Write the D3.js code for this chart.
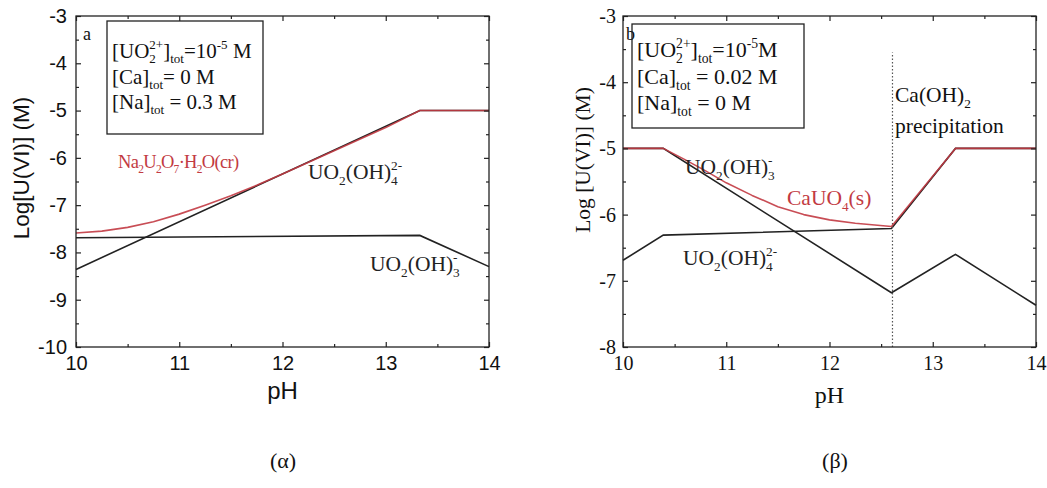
<!DOCTYPE html>
<html>
<head>
<meta charset="utf-8">
<script src="https://cdn.jsdelivr.net/npm/d3@7"></script>
<style>
  body { margin: 0; background: #fff; }
  text { white-space: pre; }
</style>
</head>
<body>
<script>
// axis ticks
const pH_ticks = [10, 11, 12, 13, 14]
const pH_minor = [10.5, 11.5, 12.5, 13.5]
const a_yTicks = [-10, -9, -8, -7, -6, -5, -4, -3]
const a_yMinor = [-9.5, -8.5, -7.5, -6.5, -5.5, -4.5, -3.5]
const b_yTicks = [-8, -7, -6, -5, -4, -3]
const b_yMinor = [-7.5, -6.5, -5.5, -4.5, -3.5]

// panel a : [pH, log C]
const a_na2u2o7 = [[10, -7.59], [10.25, -7.55], [10.5, -7.47], [10.75, -7.35], [11, -7.19],
  [11.25, -7.0], [11.5, -6.8], [11.75, -6.58], [12, -6.34], [12.5, -5.85], [13, -5.36],
  [13.33, -5.0], [14, -5.0]]
const a_uo2oh4 = [[10, -8.36], [13.33, -5.0], [14, -5.0]]
const a_uo2oh3 = [[10, -7.69], [13.33, -7.64], [14, -8.3]]

// panel b
const b_cauo4 = [[10, -5.0], [10.39, -5.0], [10.6, -5.17], [10.8, -5.34], [11, -5.52],
  [11.25, -5.71], [11.5, -5.88], [11.75, -6.0], [12, -6.08], [12.25, -6.13], [12.6, -6.18],
  [13.22, -5.0], [14, -5.0]]
const b_uo2oh3 = [[10, -5.0], [10.39, -5.0], [12.6, -7.18], [13.22, -6.6], [14, -7.37]]
const b_uo2oh4 = [[10, -6.69], [10.39, -6.31], [12.6, -6.21], [13.22, -5.0], [14, -5.0]]
const b_caoh2 = [[12.61, -8], [12.61, -3.55]]

const RED = '#c23a42'
const SERIF = '"Liberation Serif", "Times New Roman", serif'
const SANS = '"Liberation Sans", Arial, sans-serif'

const svg = d3.select('body').append('svg')
  .attr('width', 1047).attr('height', 488)

// rich text: parts = [text, mode, text2]; mode n normal, b sub, p sup, bp stacked
function rich(g, x, y, parts, fs, color, family, spacing) {
  const t = g.append('text').attr('x', x).attr('y', y)
    .style('font-family', family).style('font-size', fs + 'px').style('fill', color)
    .style('letter-spacing', (spacing || 0) + 'px')
  const small = fs * 0.62, subOff = fs * 0.26, supOff = -fs * 0.42
  let cur = 0
  parts.forEach(([s, m, s2]) => {
    if (m === 'b') {
      t.append('tspan').attr('dy', subOff - cur).style('font-size', small + 'px').text(s)
      cur = subOff
    } else if (m === 'p') {
      t.append('tspan').attr('dy', supOff - cur).style('font-size', small + 'px').text(s)
      cur = supOff
    } else if (m === 'bp') {
      const a = t.append('tspan').attr('dy', subOff - cur).style('font-size', small + 'px').text(s)
      const w = a.node().getComputedTextLength()
      t.append('tspan').attr('dx', -w).attr('dy', supOff - subOff).style('font-size', small + 'px').text(s2)
      cur = supOff
    } else {
      t.append('tspan').attr('dy', -cur).text(s)
      cur = 0
    }
  })
  return t
}

function drawPanel(p) {
  const g = svg.append('g')
  const x = d3.scaleLinear().domain([10, 14]).range([p.left, p.right])
  const y = d3.scaleLinear().domain(p.yDomain).range([p.bottom, p.top])

  const line = d3.line().x(d => x(d[0])).y(d => y(d[1]))

  // curves
  p.black.forEach(data => {
    g.append('path').attr('d', line(data))
      .attr('fill', 'none').attr('stroke', '#222').attr('stroke-width', 1.6)
  })
  if (p.dotted) {
    g.append('path').attr('d', line(p.dotted))
      .attr('fill', 'none').attr('stroke', '#555').attr('stroke-width', 1.2)
      .attr('stroke-dasharray', '1.5,2')
  }
  g.append('path').attr('d', line(p.red))
    .attr('fill', 'none').attr('stroke', RED).attr('stroke-width', 1.6)
    .attr('stroke-opacity', 0.9).attr('stroke-linejoin', 'round')

  // axes
  function ax(axis, tr, vals, size, labels) {
    const a = axis.tickValues(vals).tickSize(-size).tickSizeOuter(0).tickPadding(p.pad)
      .tickFormat(labels ? d => String(d) : '')
    const sel = g.append('g').attr('transform', tr).call(a)
    sel.select('.domain').remove()
    sel.selectAll('line').attr('stroke', '#222').attr('stroke-width', 1.2)
    sel.selectAll('text').style('font-family', p.font).style('font-size', p.tickFs + 'px')
      .style('fill', '#111')
    return sel
  }
  const bx = ax(d3.axisBottom(x), `translate(0,${p.bottom})`, pH_ticks, 5, true)
  bx.selectAll('text').attr('dy', '0.71em').attr('y', p.xPad)
  ax(d3.axisBottom(x), `translate(0,${p.bottom})`, pH_minor, 3, false)
  ax(d3.axisTop(x), `translate(0,${p.top})`, pH_ticks, 5, false)
  ax(d3.axisTop(x), `translate(0,${p.top})`, pH_minor, 3, false)
  ax(d3.axisLeft(y), `translate(${p.left},0)`, p.yTicks, 5, true)
  ax(d3.axisLeft(y), `translate(${p.left},0)`, p.yMinor, 3, false)
  ax(d3.axisRight(y), `translate(${p.right},0)`, p.yTicks, 5, false)
  ax(d3.axisRight(y), `translate(${p.right},0)`, p.yMinor, 3, false)

  g.append('rect').attr('x', p.left).attr('y', p.top)
    .attr('width', p.right - p.left).attr('height', p.bottom - p.top)
    .attr('fill', 'none').attr('stroke', '#222').attr('stroke-width', 1.3)

  // axis titles
  g.append('text').attr('x', (p.left + p.right) / 2).attr('y', p.xTitleY)
    .attr('text-anchor', 'middle').style('font-family', p.font).style('font-size', '24px')
    .style('fill', '#111').text('pH')
  g.append('text').attr('transform', `translate(${p.yTitleX},${p.yTitleY}) rotate(-90)`)
    .attr('text-anchor', 'middle').style('font-family', p.font).style('font-size', p.yTitleFs + 'px')
    .style('fill', '#111').text(p.yTitle)

  // panel letter and condition box
  g.append('text').attr('x', p.letter[0]).attr('y', p.letter[1])
    .style('font-family', SERIF).style('font-size', '18px').style('fill', '#111').text(p.id)
  g.append('rect').attr('x', p.box[0]).attr('y', p.box[1])
    .attr('width', p.box[2]).attr('height', p.box[3])
    .attr('fill', 'none').attr('stroke', '#222').attr('stroke-width', 1.3)
  p.boxLines.forEach((parts, i) => {
    rich(g, p.box[0] + 5, p.boxBase[i], parts, p.boxFs, '#111', SERIF)
  })
  p.labels.forEach(l => rich(g, l.x, l.y, l.parts, l.fs || 21.5, l.color || '#222', SERIF, l.ls))
}

drawPanel({
  id: 'a', left: 76, right: 489, top: 16, bottom: 347, yDomain: [-10, -3],
  yTicks: a_yTicks, yMinor: a_yMinor, font: SANS, tickFs: 20, pad: 9, xPad: 9,
  red: a_na2u2o7, black: [a_uo2oh4, a_uo2oh3],
  xTitleY: 399, yTitleX: 29, yTitleY: 168, yTitleFs: 22.5, yTitle: 'Log[U(VI)] (M)',
  letter: [83, 40], box: [107, 21, 156, 113], boxBase: [58, 84, 109], boxFs: 21,
  boxLines: [
    [['[UO'], ['2', 'bp', '2+'], [']'], ['tot', 'b'], ['=10'], ['-5', 'p'], [' M']],
    [['[Ca]'], ['tot', 'b'], ['= 0 M']],
    [['[Na]'], ['tot', 'b'], [' = 0.3 M']]
  ],
  labels: [
    { x: 118, y: 168, fs: 18.5, ls: -0.7, color: RED, parts: [['Na'], ['2', 'b'], ['U'], ['2', 'b'], ['O'], ['7', 'b'], ['·H'], ['2', 'b'], ['O(cr)']] },
    { x: 308, y: 179, parts: [['UO'], ['2', 'b'], ['(OH)'], ['4', 'bp', '2-']] },
    { x: 370, y: 271, parts: [['UO'], ['2', 'b'], ['(OH)'], ['3', 'bp', '-']] }
  ]
})

drawPanel({
  id: 'b', left: 623, right: 1036, top: 16, bottom: 347, yDomain: [-8, -3],
  yTicks: b_yTicks, yMinor: b_yMinor, font: SERIF, tickFs: 20, pad: 7, xPad: 9,
  red: b_cauo4, black: [b_uo2oh3, b_uo2oh4], dotted: b_caoh2,
  xTitleY: 403, yTitleX: 590, yTitleY: 160, yTitleFs: 21.5, yTitle: 'Log [U(VI)] (M)',
  letter: [626, 40], box: [632, 24, 172, 104], boxBase: [57, 84, 110], boxFs: 22,
  boxLines: [
    [['[UO'], ['2', 'bp', '2+'], [']'], ['tot', 'b'], ['=10'], ['-5', 'p'], ['M']],
    [['[Ca]'], ['tot', 'b'], [' = 0.02 M']],
    [['[Na]'], ['tot', 'b'], [' = 0 M']]
  ],
  labels: [
    { x: 895, y: 102, color: '#111', parts: [['Ca(OH)'], ['2', 'b']] },
    { x: 895, y: 133, color: '#111', parts: [['precipitation']] },
    { x: 685, y: 174, parts: [['UO'], ['2', 'b'], ['(OH)'], ['3', 'bp', '-']] },
    { x: 787, y: 205, color: RED, parts: [['CaUO'], ['4', 'b'], ['(s)']] },
    { x: 683, y: 265, parts: [['UO'], ['2', 'b'], ['(OH)'], ['4', 'bp', '2-']] }
  ]
})

// captions
svg.append('text').attr('x', 283).attr('y', 468).attr('text-anchor', 'middle')
  .style('font-family', SERIF).style('font-size', '22px').style('fill', '#111').text('(α)')
svg.append('text').attr('x', 835).attr('y', 468).attr('text-anchor', 'middle')
  .style('font-family', SERIF).style('font-size', '22px').style('fill', '#111').text('(β)')
</script>
</body>
</html>
